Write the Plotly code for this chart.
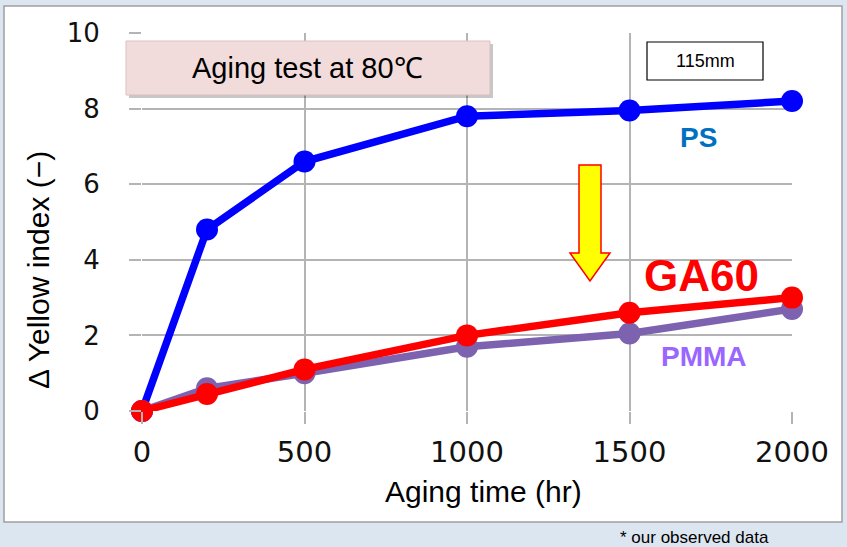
import plotly.graph_objects as go

# ---- data ----
hours = [0, 200, 500, 1000, 1500, 2000]
ps_vals = [0, 4.8, 6.6, 7.8, 7.95, 8.2]
pmma_vals = [0, 0.6, 1.0, 1.7, 2.05, 2.7]
ga60_vals = [0, 0.45, 1.1, 2.0, 2.6, 3.0]
x_ticks = [0, 500, 1000, 1500, 2000]
y_ticks = [0, 2, 4, 6, 8, 10]

W, H = 847, 547
L, R, T, B = 142, 55, 33, 136
PW, PH = W - L - R, H - T - B

def px(x):
    return (x - L) / PW

def py(y):
    return (H - B - y) / PH

fig = go.Figure()
fig.add_trace(go.Scatter(x=hours, y=ps_vals, mode="lines+markers", name="PS",
                         line=dict(color="#0000ff", width=7.5),
                         marker=dict(color="#0000ff", size=22), cliponaxis=False))
fig.add_trace(go.Scatter(x=hours, y=pmma_vals, mode="lines+markers", name="PMMA",
                         line=dict(color="#7d62b0", width=7.5),
                         marker=dict(color="#7d62b0", size=22), cliponaxis=False))
fig.add_trace(go.Scatter(x=hours, y=ga60_vals, mode="lines+markers", name="GA60",
                         line=dict(color="#ff0000", width=7.5),
                         marker=dict(color="#ff0000", size=22), cliponaxis=False))

grid = "#b4b4b4"
fig.update_xaxes(range=[0, 2000], tickvals=x_ticks, showgrid=True, gridcolor=grid, gridwidth=1.5,
                 ticks="outside", ticklen=12, tickcolor=grid, tickwidth=1.5,
                 zeroline=False, showline=False, ticklabelstandoff=3,
                 tickfont=dict(family="DejaVu Sans", size=29, color="#111"))
fig.update_yaxes(range=[0, 10], tickvals=y_ticks, showgrid=True, gridcolor=grid, gridwidth=1.5,
                 ticks="outside", ticklen=12, tickcolor=grid, tickwidth=1.5,
                 zeroline=False, showline=False, ticklabelstandoff=24,
                 tickfont=dict(family="DejaVu Sans", size=26, color="#111"))

shapes = [
    dict(type="rect", xref="paper", yref="paper", x0=px(4), x1=px(842), y0=py(522), y1=py(6),
         fillcolor="white", line=dict(color="#a0a0a0", width=1.5), layer="below"),
    dict(type="rect", xref="paper", yref="paper", x0=px(129), x1=px(493), y0=py(98), y1=py(44),
         fillcolor="rgba(0,0,0,0.22)", line=dict(width=0), layer="above"),
    dict(type="rect", xref="paper", yref="paper", x0=px(126), x1=px(490), y0=py(95), y1=py(41),
         fillcolor="#f2dcdb", line=dict(color="#d8c0c0", width=1), layer="above"),
    dict(type="rect", xref="paper", yref="paper", x0=px(647), x1=px(763), y0=py(80), y1=py(42),
         fillcolor="white", line=dict(color="black", width=1.2), layer="above"),
]
arrow_pts = [(579, 165), (601, 165), (601, 253), (610, 253), (590, 281), (570, 253), (579, 253)]
path = "M " + " L ".join(f"{px(a):.5f},{py(b):.5f}" for a, b in arrow_pts) + " Z"
shapes.append(dict(type="path", xref="paper", yref="paper", path=path,
                   fillcolor="#ffff00", line=dict(color="#ff0000", width=1.5), layer="above"))

ann = [
    dict(text="Aging test at 80℃", x=px(307), y=py(68), font=dict(family="Liberation Sans", size=29, color="black")),
    dict(text="115mm", x=px(705), y=py(61), font=dict(family="Liberation Sans", size=18, color="black")),
    dict(text="<b>PS</b>", x=px(698), y=py(137), font=dict(family="Liberation Sans", size=28, color="#0070c0")),
    dict(text="<b>GA60</b>", x=px(701), y=py(275), font=dict(family="Liberation Sans", size=44, color="#ff0000")),
    dict(text="<b>PMMA</b>", x=px(704), y=py(356), font=dict(family="Liberation Sans", size=28, color="#9966ff")),
    dict(text="Aging time (hr)", x=px(483), y=py(492), font=dict(family="Liberation Sans", size=30, color="black")),
    dict(text="Δ Yellow index (−)", x=px(38), y=py(270), textangle=-90,
         font=dict(family="Liberation Sans", size=30, color="black")),
    dict(text="* our observed data", x=px(694), y=py(537), font=dict(family="Liberation Sans", size=17, color="black")),
]
for a in ann:
    a.update(xref="paper", yref="paper", showarrow=False, xanchor="center", yanchor="middle")

fig.update_layout(width=W, height=H, margin=dict(l=L, r=R, t=T, b=B, autoexpand=False),
                  paper_bgcolor="#dce6f0", plot_bgcolor="rgba(0,0,0,0)",
                  showlegend=False, shapes=shapes, annotations=ann)
fig.write_html("out.html", config={"displayModeBar": False},
               post_script="document.body.style.margin='0';document.body.style.background='#dce6f0';")
